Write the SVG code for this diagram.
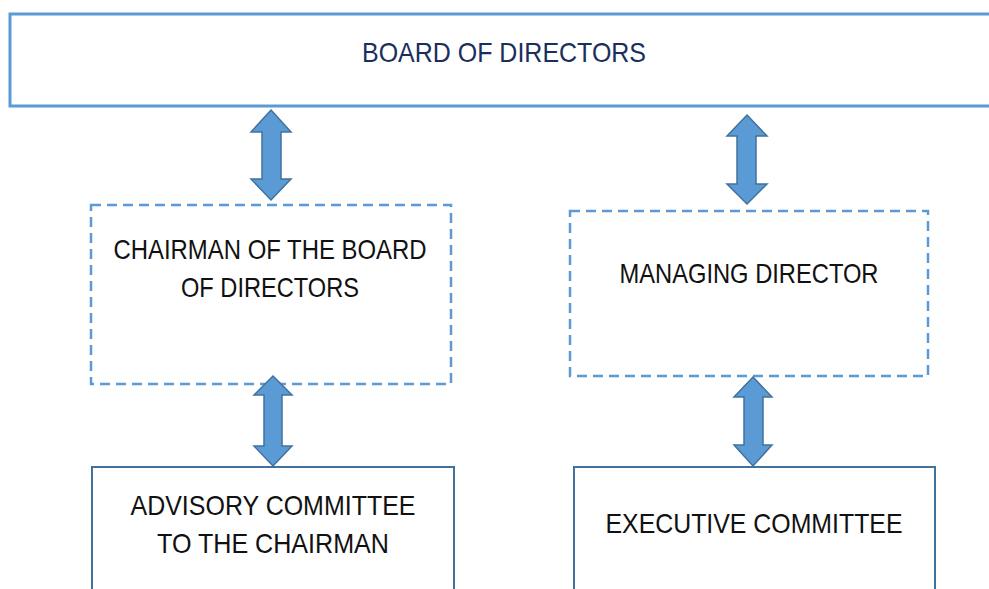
<svg xmlns="http://www.w3.org/2000/svg" width="989" height="589" viewBox="0 0 989 589">
<style>
.solid{fill:#fff;stroke:#5b9bd5;stroke-width:3}
.dark{fill:#fff;stroke:#41719c;stroke-width:2}
.dash{fill:#fff;stroke:#5b9bd5;stroke-width:2.5;stroke-dasharray:10 6}
.arr{fill:#5b9bd5;stroke:#41719c;stroke-width:1.5;stroke-linejoin:miter}
text{font-family:"Liberation Sans",Arial,sans-serif;font-size:27.5px;fill:#111;text-anchor:middle}
.navy{fill:#1a2f5e}
</style>
<rect width="989" height="589" fill="#fff"/>
<g id="board">
<rect class="solid" x="10" y="14" width="990" height="92"/>
<text class="navy" x="504" y="62" textLength="284" lengthAdjust="spacingAndGlyphs">BOARD OF DIRECTORS</text>
</g>
<g id="chairman">
<rect class="dash" x="91" y="205" width="360" height="179"/>
<text x="270" y="259" textLength="313" lengthAdjust="spacingAndGlyphs">CHAIRMAN OF THE BOARD</text>
<text x="270" y="297" textLength="178" lengthAdjust="spacingAndGlyphs">OF DIRECTORS</text>
</g>
<g id="managing">
<rect class="dash" x="570" y="211" width="358" height="165"/>
<text x="749" y="283" textLength="259" lengthAdjust="spacingAndGlyphs">MANAGING DIRECTOR</text>
</g>
<g id="advisory">
<rect class="dark" x="92" y="467" width="362" height="140"/>
<text x="273" y="515" textLength="285" lengthAdjust="spacingAndGlyphs">ADVISORY COMMITTEE</text>
<text x="273" y="553" textLength="232" lengthAdjust="spacingAndGlyphs">TO THE CHAIRMAN</text>
</g>
<g id="executive">
<rect class="dark" x="574" y="467" width="361" height="140"/>
<text x="754" y="533" textLength="297" lengthAdjust="spacingAndGlyphs">EXECUTIVE COMMITTEE</text>
</g>
<g id="connectors">
<path class="arr" d="M271,110 L291,132 L281,132 L281,179 L291,179 L271,200 L251,179 L262,179 L262,132 L251,132 Z"/>
<path class="arr" d="M273,376 L292,395 L282,395 L282,446 L292,446 L273,466 L254,446 L264,446 L264,395 L254,395 Z"/>
<path class="arr" d="M747,115 L767,136 L756,136 L756,184 L767,184 L747,204 L727,184 L737,184 L737,136 L727,136 Z"/>
<path class="arr" d="M753,377 L772,397 L763,397 L763,445 L772,445 L753,466 L734,445 L744,445 L744,397 L734,397 Z"/>
</g>
</svg>
